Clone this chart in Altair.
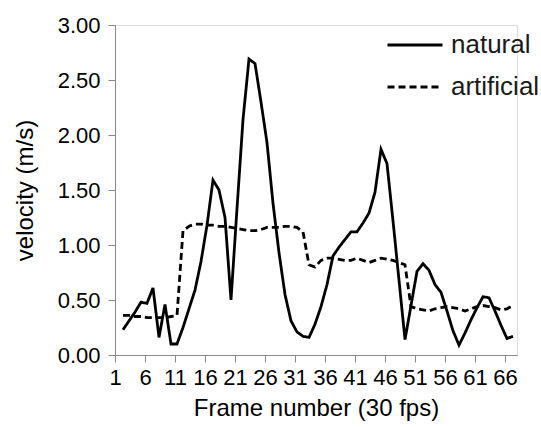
import altair as alt
import pandas as pd

# Frame numbers (1..66)
frames = list(range(1, 67))

natural = [0.23, 0.31, 0.39, 0.48, 0.47, 0.61, 0.16, 0.46, 0.10, 0.10,
           0.25, 0.42, 0.59, 0.85, 1.18, 1.59, 1.50, 1.25, 0.50, 1.33,
           2.14, 2.69, 2.65, 2.30, 1.93, 1.38, 0.93, 0.55, 0.31, 0.21,
           0.17, 0.16, 0.28, 0.44, 0.64, 0.90, 0.98, 1.05, 1.12, 1.12,
           1.20, 1.29, 1.48, 1.87, 1.74, 1.22, 0.68, 0.14, 0.45, 0.76,
           0.83, 0.77, 0.64, 0.57, 0.40, 0.22, 0.09, 0.20, 0.32, 0.43,
           0.53, 0.52, 0.40, 0.27, 0.15, 0.17]

artificial = [0.36, 0.36, 0.35, 0.35, 0.34, 0.34, 0.34, 0.34, 0.35, 0.36,
              1.13, 1.17, 1.19, 1.19, 1.18, 1.18, 1.17, 1.17, 1.16, 1.15,
              1.14, 1.13, 1.13, 1.14, 1.16, 1.16, 1.16, 1.17, 1.17, 1.16,
              1.12, 0.82, 0.80, 0.86, 0.88, 0.88, 0.87, 0.86, 0.86, 0.88,
              0.86, 0.84, 0.86, 0.88, 0.87, 0.86, 0.84, 0.82, 0.44, 0.42,
              0.41, 0.40, 0.42, 0.43, 0.44, 0.43, 0.42, 0.40, 0.42, 0.44,
              0.45, 0.44, 0.43, 0.41, 0.42, 0.45]

series_names = ["natural", "artificial"]
x_tick_labels = list(range(1, 67, 5))  # 1, 6, ..., 66
y_ticks = [0, 0.5, 1.0, 1.5, 2.0, 2.5, 3.0]

rows = []
for f, v in zip(frames, natural):
    rows.append({"frame": f, "velocity": v, "series": "natural"})
for f, v in zip(frames, artificial):
    rows.append({"frame": f, "velocity": v, "series": "artificial"})
df = pd.DataFrame(rows)

# The reference's category labels sit 4/3 frame left of the plotted points
shift = 4.0 / 3.0
x_tick_vals = [t - shift for t in x_tick_labels]

FONT = "Liberation Sans"
TXT = "#1a1a1a"

chart = alt.Chart(df).mark_line(color="black", strokeWidth=2.8, strokeJoin="miter").encode(
    x=alt.X("frame:Q",
            scale=alt.Scale(domain=[1 - shift, 68 - shift], nice=False, zero=False),
            axis=alt.Axis(values=x_tick_vals,
                          labelExpr="format(round(datum.value + 4/3), 'd')",
                          title="Frame number (30 fps)",
                          grid=False, labelFontSize=22, titleFontSize=24,
                          titleFontWeight="normal", titleFont=FONT, labelFont=FONT,
                          labelPadding=5, titlePadding=8, tickSize=7,
                          labelFlush=False, labelOverlap=False)),
    y=alt.Y("velocity:Q",
            scale=alt.Scale(domain=[0, 3], nice=False),
            axis=alt.Axis(values=y_ticks, format=".2f", title="velocity (m/s)",
                          grid=False, labelFontSize=22, titleFontSize=24,
                          titleFontWeight="normal", titleFont=FONT, labelFont=FONT,
                          labelPadding=8, titlePadding=20, tickSize=7)),
    strokeDash=alt.StrokeDash("series:N",
                              scale=alt.Scale(domain=series_names, range=[[1, 0], [7, 4]]),
                              legend=alt.Legend(title=None, orient="none",
                                                legendX=271, legendY=-9,
                                                symbolType="stroke", symbolSize=3025,
                                                symbolStrokeWidth=2.8, symbolStrokeColor="black",
                                                labelFontSize=26, labelFont=FONT, labelColor=TXT,
                                                labelOffset=7, rowPadding=0, padding=0)),
    order=alt.Order("frame:Q"),
).properties(
    width=402, height=330,
    autosize=alt.AutoSizeParams(type="none"),
    padding={"left": 115, "top": 25, "right": 24, "bottom": 72},
).configure_view(
    stroke=None
).configure_axis(
    domainColor="black", domainWidth=1.5, tickColor="black", tickWidth=1.5,
    labelFont=FONT, titleFont=FONT, labelColor=TXT, titleColor=TXT,
    titleFontWeight="normal"
).configure(background="white")

chart.save("out.html", embed_options={"renderer": "svg", "actions": False})
